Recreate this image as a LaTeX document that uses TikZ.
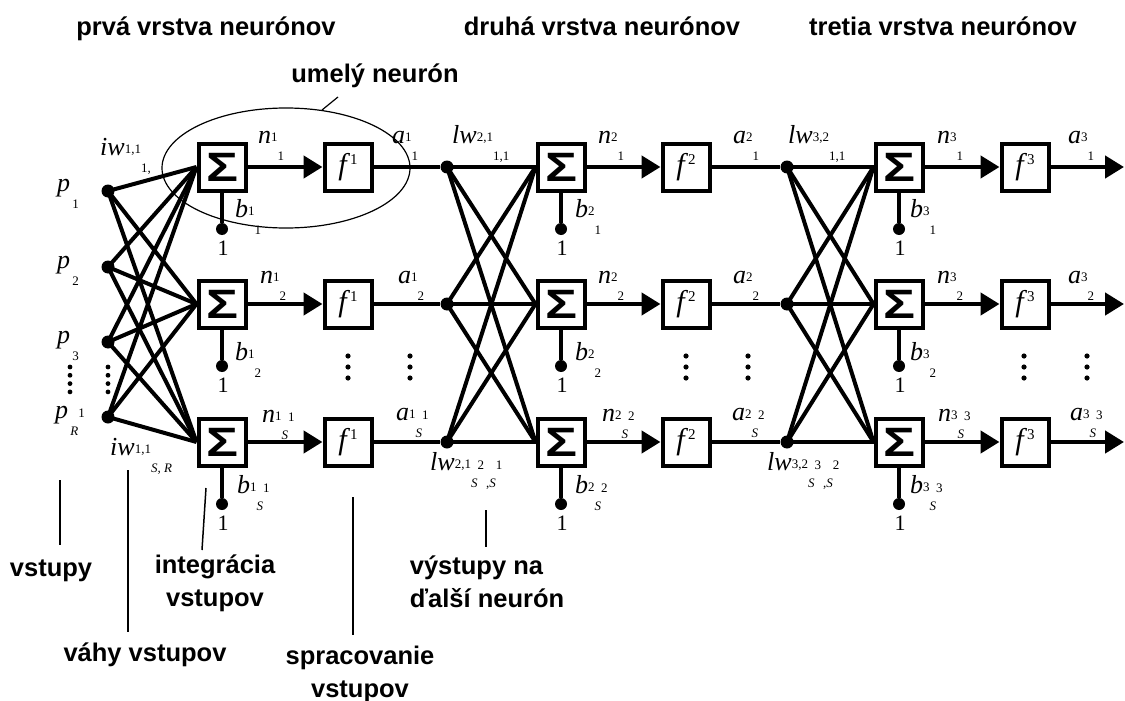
\documentclass[tikz,border=0pt]{standalone}
\usepackage{fontspec}
\setmainfont{Liberation Serif}
\newfontfamily\arialf{Liberation Sans}
\usetikzlibrary{arrows.meta,shapes.geometric}

\newcommand{\smf}{\fontsize{13}{13}\selectfont}
\newcommand{\nlab}[3]{\textit{#1}\raisebox{1.5pt}{\smf #2}\raisebox{-17pt}{\smf #3}}
\newcommand{\sraise}[1]{\raisebox{18pt}{#1}}
\newcommand{\sig}{{\arialf\bfseries\fontsize{41}{41}\selectfont\scalebox{1.3}[1]{Σ}}}
\newcommand{\fsym}[1]{{\fontsize{30}{30}\selectfont\textit{f}\raisebox{10pt}{\fontsize{15}{15}\selectfont #1}}}
\newcommand{\vdts}[2]{\foreach \kk in {0,1,2} {\fill (#1,#2+\kk*11) circle (2.6pt);}}
\newcommand{\vdtsf}[2]{\foreach \kk in {0,1,2,3} {\fill (#1,#2+\kk*8.3) circle (2.4pt);}}

\tikzset{
 main/.style={line width=4.5pt},
 wline/.style={line width=4pt},
 bline/.style={line width=4pt},
 arr/.style={main,-{Triangle[length=19pt,width=22pt]}},
 sbox/.style={draw,line width=4pt,fill=white,minimum size=47pt,inner sep=0pt},
 ndot/.style={circle,fill=black,minimum size=13pt,inner sep=0pt},
 bdot/.style={circle,fill=black,minimum size=12pt,inner sep=0pt},
 lab/.style={anchor=base west,inner sep=0pt,font=\fontsize{26}{26}\selectfont},
 one/.style={inner sep=0pt,font=\fontsize{22}{22}\selectfont},
 ttl/.style={inner sep=0pt,font=\arialf\bfseries\fontsize{25.5}{33}\selectfont},
 ptr/.style={line width=1.5pt},
 ell/.style={draw,ellipse,line width=1.2pt,inner sep=0pt},
}

\begin{document}
\begin{tikzpicture}[x=1pt,y=-1pt]
\fill[white] (0,0) rectangle (1125,701);
\useasboundingbox (0,0) rectangle (1125,701);

% titles
\node[ttl,anchor=base] (t1) at (206,36) {prvá vrstva neurónov};
\node[ttl,anchor=base] (t2) at (602,36) {druhá vrstva neurónov};
\node[ttl,anchor=base] (t3) at (943,36) {tretia vrstva neurónov};
\node[ttl,anchor=base] (tn) at (375,83) {umelý neurón};

% input dots
\node[ndot] (p1) at (108,191) {};
\node[ndot] (p2) at (108,267) {};
\node[ndot] (p3) at (108,342) {};
\node[ndot] (p4) at (108,417) {};

% layers
\foreach \L/\xs/\xf in {1/222/348, 2/561/686, 3/899/1025} {
  \foreach \r/\y in {1/167, 2/304, 3/442} {
    \node[sbox] (s\L\r) at (\xs,\y) {\sig};
    \node[sbox] (f\L\r) at (\xf,\y) {\fsym{\L}};
    \node[bdot] (b\L\r) at (\xs,\y+62) {};
    \node[one] (o\L\r) at (\xs+1,\y+81) {1};
    \draw[arr] (s\L\r) -- (f\L\r);
    \draw[bline] (s\L\r.south) -- (b\L\r);
  }
}

% hidden-layer dots and outputs
\foreach \r/\y in {1/167, 2/304, 3/442} {
  \node[ndot] (d2\r) at (447,\y) {};
  \node[ndot] (d3\r) at (787,\y) {};
  \coordinate (out\r) at (1124,\y);
  \draw[main] (f1\r) -- (d2\r);
  \draw[main] (f2\r) -- (d3\r);
  \draw[main] (d2\r) -- (s2\r);
  \draw[main] (d3\r) -- (s3\r);
  \draw[arr] (f3\r) -- (out\r);
}

% crossing connections
\foreach \i in {1,2,3,4} {
  \foreach \k in {1,2,3} {
    \draw[wline] (p\i.center) -- (s1\k.west);
  }
}
\foreach \r in {1,2,3} {
  \foreach \k in {1,2,3} {
    \draw[wline] (d2\r.center) -- (s2\k.west);
    \draw[wline] (d3\r.center) -- (s3\k.west);
  }
}

% vertical dots
\vdtsf{70}{367}
\vdtsf{108}{367}
\vdts{348}{356}
\vdts{410}{356}
\vdts{686}{356}
\vdts{748}{356}
\vdts{1024}{356}
\vdts{1087}{356}

% ellipse "umely neuron"
\node[ell,minimum width=248pt,minimum height=120pt] (neur) at (286,168) {};
\coordinate (ea) at (322,110);
\coordinate (eb) at (338,97);
\draw[line width=1.2pt] (ea) -- (eb);

% input labels
\node[lab] (lp1) at (57,191) {\nlab{p}{}{\,1}};
\node[lab] (lp2) at (57,268) {\nlab{p}{}{\,2}};
\node[lab] (lp3) at (57,343) {\nlab{p}{}{\,3}};
\node[lab] (lp4) at (55,418) {\nlab{p}{}{\,\textit{R}\sraise{1}}};
\node[lab] (liw1) at (100,155) {\nlab{iw}{1,1}{1,}};
\node[lab] (liw2) at (110,455) {\nlab{iw}{1,1}{\textit{S, R}}};

% layer 1 labels
\node[lab] (ln11) at (258,143) {\nlab{n}{1}{1}};
\node[lab] (ln12) at (260,283) {\nlab{n}{1}{2}};
\node[lab] (ln13) at (262,422) {\nlab{n}{1}{\textit{S}\sraise{1}}};
\node[lab] (la11) at (392,143) {\nlab{a}{1}{1}};
\node[lab] (la12) at (398,283) {\nlab{a}{1}{2}};
\node[lab] (la13) at (396,420) {\nlab{a}{1}{\textit{S}\sraise{1}}};
\node[lab] (lb11) at (235,217) {\nlab{b}{1}{1}};
\node[lab] (lb12) at (235,360) {\nlab{b}{1}{2}};
\node[lab] (lb13) at (237,493) {\nlab{b}{1}{\textit{S}\sraise{1}}};

% layer 2 labels
\node[lab] (llw21) at (452,143) {\nlab{lw}{2,1}{1,1}};
\node[lab] (llw22) at (430,470) {\nlab{lw}{2,1}{\textit{S}\sraise{2}\,,\textit{S}\sraise{1}}};
\node[lab] (ln21) at (598,143) {\nlab{n}{2}{1}};
\node[lab] (ln22) at (598,283) {\nlab{n}{2}{2}};
\node[lab] (ln23) at (602,421) {\nlab{n}{2}{\textit{S}\sraise{2}}};
\node[lab] (la21) at (733,143) {\nlab{a}{2}{1}};
\node[lab] (la22) at (733,283) {\nlab{a}{2}{2}};
\node[lab] (la23) at (732,420) {\nlab{a}{2}{\textit{S}\sraise{2}}};
\node[lab] (lb21) at (575,217) {\nlab{b}{2}{1}};
\node[lab] (lb22) at (575,360) {\nlab{b}{2}{2}};
\node[lab] (lb23) at (575,493) {\nlab{b}{2}{\textit{S}\sraise{2}}};

% layer 3 labels
\node[lab] (llw31) at (788,143) {\nlab{lw}{3,2}{1,1}};
\node[lab] (llw32) at (767,470) {\nlab{lw}{3,2}{\textit{S}\sraise{3}\,,\textit{S}\sraise{2}}};
\node[lab] (ln31) at (937,143) {\nlab{n}{3}{1}};
\node[lab] (ln32) at (937,283) {\nlab{n}{3}{2}};
\node[lab] (ln33) at (938,421) {\nlab{n}{3}{\textit{S}\sraise{3}}};
\node[lab] (la31) at (1068,143) {\nlab{a}{3}{1}};
\node[lab] (la32) at (1068,283) {\nlab{a}{3}{2}};
\node[lab] (la33) at (1070,420) {\nlab{a}{3}{\textit{S}\sraise{3}}};
\node[lab] (lb31) at (910,217) {\nlab{b}{3}{1}};
\node[lab] (lb32) at (910,360) {\nlab{b}{3}{2}};
\node[lab] (lb33) at (910,493) {\nlab{b}{3}{\textit{S}\sraise{3}}};

% bottom explanation labels
\node[ttl,anchor=base] (lvst) at (51,576) {vstupy};
\coordinate (v1) at (60,480); \coordinate (v2) at (60,545);
\draw[ptr] (v1) -- (v2);

\node[ttl,anchor=base] (lvah) at (145,661) {váhy vstupov};
\coordinate (w1) at (128,470); \coordinate (w2) at (128,632);
\draw[ptr] (w1) -- (w2);

\node[ttl,align=center] (lint) at (215,583) {integrácia\\vstupov};
\coordinate (i1) at (206,488); \coordinate (i2) at (202,550);
\draw[ptr] (i1) -- (i2);

\node[ttl,align=center] (lspr) at (360,674) {spracovanie\\vstupov};
\coordinate (s1) at (353,497); \coordinate (s2) at (353,635);
\draw[ptr] (s1) -- (s2);

\node[ttl,align=left] (lvys) at (487,582) {výstupy na\\ďalší neurón};
\coordinate (y1) at (486,510); \coordinate (y2) at (486,547);
\draw[ptr] (y1) -- (y2);
\end{tikzpicture}
\end{document}
